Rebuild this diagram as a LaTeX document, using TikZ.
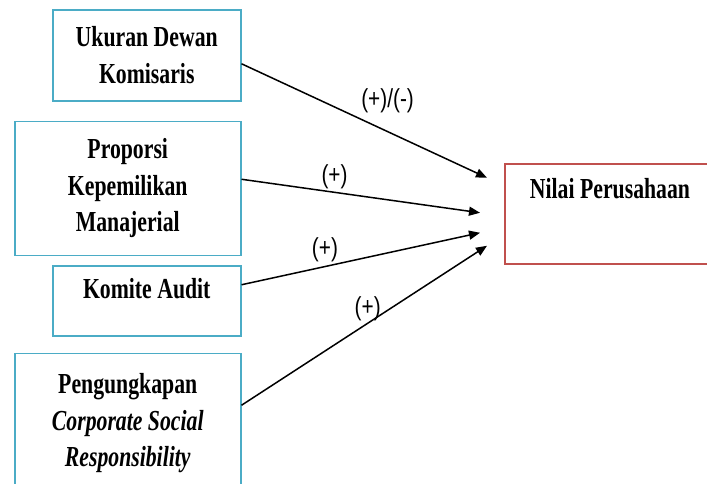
\documentclass[tikz,border=0pt]{standalone}
\usepackage{fontspec}
\newfontfamily\hurufKotak{Liberation Serif}[FakeStretch=0.75]
\newfontfamily\hurufLabel{Liberation Sans}[FakeStretch=0.8]
\usetikzlibrary{arrows.meta, positioning, calc}
\definecolor{biruaqua}{HTML}{4BACC6}
\definecolor{merahbata}{HTML}{C0504D}
\colorlet{colVariabel}{biruaqua}
\colorlet{colTerikat}{merahbata}
\colorlet{colPanah}{black}
\tikzset{
  teksKotak/.style={
    align=center, inner sep=0pt, text=black,
    font=\hurufKotak\bfseries\fontsize{29}{36.5}\selectfont
  },
  kotakBase/.style={
    teksKotak, draw=colVariabel, line width=1.5pt
  },
  kotakNilai/.style={kotakBase, draw=colTerikat},
  panah/.style={-{Triangle[length=11pt, width=9pt]}, line width=1.5pt, colPanah},
  labelPanah/.style={font=\hurufLabel\fontsize{26}{28}\selectfont, text=black, inner sep=0pt},
}
\begin{document}
\begin{tikzpicture}[x=1pt, y=-1pt]
    \useasboundingbox (0,0) rectangle (707,483);
    % variabel bebas
    \node[kotakBase, minimum width=188pt, minimum height=91pt, anchor=north west] (ukuran) at (52,9) {Ukuran Dewan\\Komisaris};
    \node[kotakBase, minimum width=226pt, minimum height=134pt, below=19pt of ukuran.south east, anchor=north east] (proporsi) {Proporsi\\Kepemilikan\\Manajerial};
    \node[kotakBase, minimum width=188pt, minimum height=70pt, below=9pt of proporsi.south east, anchor=north east] (komite) {};
    \node[teksKotak, anchor=base] (tKomite) at ([yshift=-33pt]komite.north) {Komite Audit};
    \node[kotakBase, minimum width=226pt, minimum height=140pt, below=16pt of komite.south east, anchor=north east] (csr) {Pengungkapan\\\textit{Corporate Social}\\\textit{Responsibility}};
    % variabel terikat
    \node[kotakNilai, minimum width=212pt, minimum height=100pt, anchor=north west] (nilai) at (504,163) {};
    \node[teksKotak, anchor=base] (tNilai) at ([xshift=106pt, yshift=-35pt]nilai.north west) {Nilai Perusahaan};
    \coordinate (u1) at ([xshift=-17pt, yshift=36pt]nilai.west);
    \coordinate (u2) at ([xshift=-24pt, yshift=1pt]nilai.west);
    \coordinate (u3) at ([xshift=-24pt, yshift=-19pt]nilai.west);
    \coordinate (u4) at ([xshift=-17pt, yshift=-32pt]nilai.west);
    \draw[panah] ([yshift=-8.5pt]ukuran.east) -- node[labelPanah, pos=0.595, above=18pt] {(+)/(-)} (u1);
    \draw[panah] ([yshift=9pt]proporsi.east) -- node[labelPanah, pos=0.39, above=3pt] {(+)} (u2);
    \draw[panah] ([yshift=16pt]komite.east) -- node[labelPanah, pos=0.35, above=4pt] {(+)} (u3);
    \draw[panah] ([yshift=18pt]csr.east) -- node[labelPanah, pos=0.514, above=2pt] {(+)} (u4);
  \end{tikzpicture}
\end{document}
